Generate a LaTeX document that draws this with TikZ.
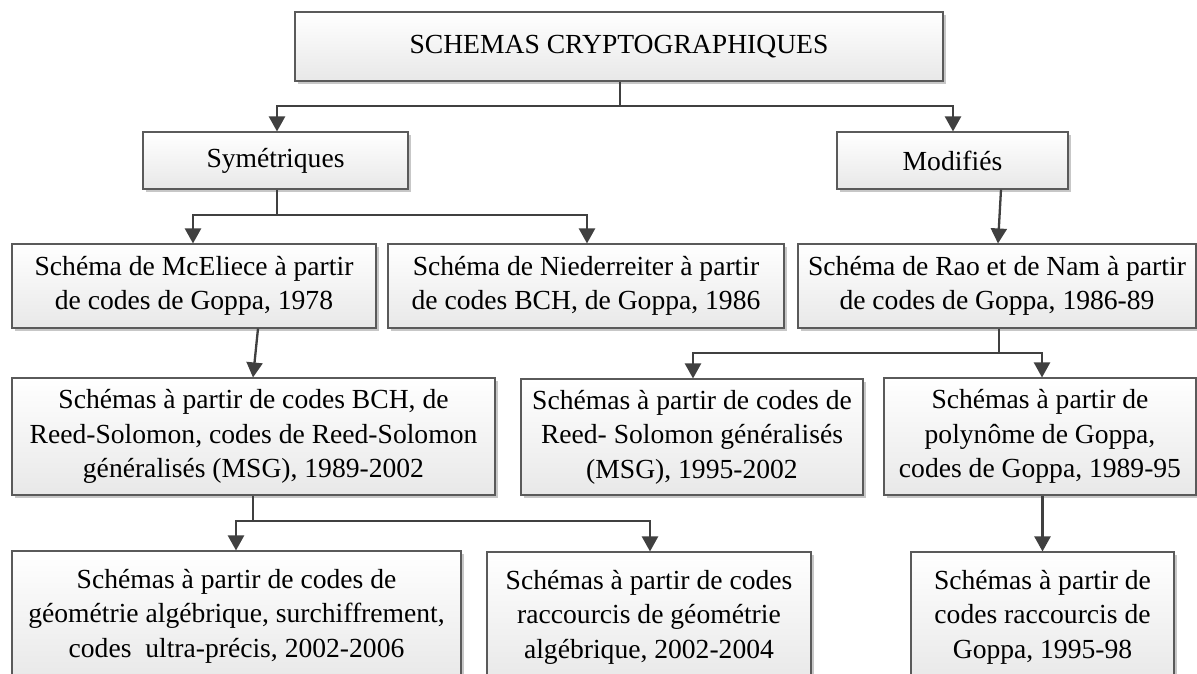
\documentclass[tikz,border=0pt]{standalone}
\usepackage{fontspec}
\setmainfont{Liberation Serif}
\usetikzlibrary{arrows.meta,shadows,calc}
\definecolor{boxline}{HTML}{5A5A5A}
\definecolor{arrowc}{HTML}{404040}
\tikzset{
  box/.style={draw=boxline, line width=1.1pt, top color=white, bottom color=black!9,
    drop shadow={shadow xshift=3pt, shadow yshift=-3pt, fill=black!22, opacity=1},
    align=center, inner sep=0pt, font=\fontsize{27.6}{34.5}\selectfont},
  conn/.style={draw=arrowc, line width=2.3pt, -{Triangle[length=15pt,width=16pt]}},
  plain/.style={draw=arrowc, line width=2.3pt},
}
\begin{document}
\begin{tikzpicture}[x=1pt,y=-1pt]
\useasboundingbox (0,0) rectangle (1197,673);
\clip (0,0) rectangle (1197,673);
\fill[white] (0,0) rectangle (1197,673);
% boxes
\node[box, minimum width=648pt, minimum height=69pt] (top) at (619,46.5) {SCHEMAS CRYPTOGRAPHIQUES};
\node[box, minimum width=265pt, minimum height=57pt] (sym) at (275.5,160.5) {Symétriques};
\node[box, minimum width=231pt, minimum height=57pt] (mod) at (952.5,160.5) {Modifiés};
\node[box, minimum width=364pt, minimum height=84pt] (mce) at (194,286) {Schéma de McEliece à partir\\de codes de Goppa, 1978};
\node[box, minimum width=396pt, minimum height=84pt] (nie) at (586,286) {Schéma de Niederreiter à partir\\de codes BCH, de Goppa, 1986};
\node[box, minimum width=398pt, minimum height=84pt] (rao) at (997,286) {Schéma de Rao et de Nam à partir\\de codes de Goppa, 1986-89};
\node[box, minimum width=483pt, minimum height=117pt] (bch) at (253.5,436.5) {Schémas à partir de codes BCH, de\\Reed-Solomon, codes de Reed-Solomon\\généralisés (MSG), 1989-2002};
\node[box, minimum width=342pt, minimum height=116pt] (rs) at (692,437) {Schémas à partir de codes de\\Reed- Solomon généralisés\\(MSG), 1995-2002};
\node[box, minimum width=312pt, minimum height=117pt] (gp) at (1040,436.5) {Schémas à partir de\\polynôme de Goppa,\\codes de Goppa, 1989-95};
\node[box, minimum width=449pt, minimum height=130pt] (bl) at (236.5,616) {Schémas à partir de codes de\\géométrie algébrique, surchiffrement,\\codes\ \ ultra-précis, 2002-2006};
\node[box, minimum width=324pt, minimum height=130pt] (bm) at (649,617) {Schémas à partir de codes\\raccourcis de géométrie\\algébrique, 2002-2004};
\node[box, minimum width=263pt, minimum height=130pt] (br) at (1042.5,617) {Schémas à partir de\\codes raccourcis de\\Goppa, 1995-98};
% junction coordinates
\coordinate (j0) at (0,106);
\coordinate (j1) at (0,215);
\coordinate (j2) at (0,353);
\coordinate (j3) at (0,521);
% connectors
\draw[plain] ([xshift=1pt]top.south) -- ([xshift=1pt]top.south |- j0);
\draw[conn] ([xshift=1pt]top.south |- j0) -| ([xshift=1.5pt]sym.north);
\draw[conn] ([xshift=1pt]top.south |- j0) -| ([xshift=0.5pt]mod.north);
\draw[plain] ([xshift=1.5pt]sym.south) -- ([xshift=1.5pt]sym.south |- j1);
\draw[conn] ([xshift=1.5pt]sym.south |- j1) -| ([xshift=-1pt]mce.north);
\draw[conn] ([xshift=1.5pt]sym.south |- j1) -| ([xshift=1pt]nie.north);
\draw[conn] ([xshift=48.5pt]mod.south) -- ([xshift=1pt]rao.north);
\draw[conn] ([xshift=64pt]mce.south) -- ([xshift=-0.5pt]bch.north);
\draw[plain] ([xshift=2pt]rao.south) -- ([xshift=2pt]rao.south |- j2);
\draw[conn] ([xshift=2pt]rao.south |- j2) -| ([xshift=1pt]rs.north);
\draw[conn] ([xshift=2pt]rao.south |- j2) -| ([xshift=2pt]gp.north);
\draw[plain] ([xshift=-0.5pt]bch.south) -- ([xshift=-0.5pt]bch.south |- j3);
\draw[conn] ([xshift=-0.5pt]bch.south |- j3) -| ([xshift=-0.5pt]bl.north);
\draw[conn] ([xshift=-0.5pt]bch.south |- j3) -| ([xshift=1pt]bm.north);
\draw[conn] (br.north |- gp.south) -- (br.north);
\end{tikzpicture}
\end{document}
